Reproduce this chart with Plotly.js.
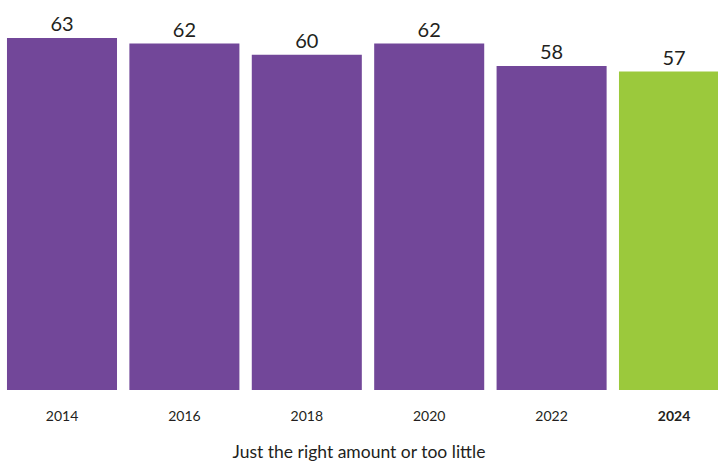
<!DOCTYPE html>
<html><head><meta charset="utf-8">
<script src="https://cdn.plot.ly/plotly-3.0.1.min.js"></script>
<style>html,body{margin:0;padding:0;background:#fff}#chart{width:718px;height:462px}</style>
</head><body><div id="chart"></div>
<script>
const years = ["2014","2016","2018","2020","2022","2024"];
const tickLabels = ["2014","2016","2018","2020","2022","<b>2024</b>"];
const values = [63, 62, 60, 62, 58, 57];
const barColors = ["#724799","#724799","#724799","#724799","#724799","#9BC93C"];
const axisTitle = "Just the right amount or too little";

const trace = {
  type: "bar",
  x: years,
  y: values,
  text: values.map(String),
  textposition: "outside",
  cliponaxis: false,
  textfont: {family: "Lato, 'Open Sans', sans-serif", size: 20, color: "#231F20"},
  marker: {color: barColors, line: {width: 0}},
  hoverinfo: "none"
};
const layout = {
  width: 718, height: 462,
  margin: {l: 0, r: 0, t: 0, b: 72},
  paper_bgcolor: "#fff", plot_bgcolor: "#fff",
  bargap: 0.101,
  showlegend: false,
  xaxis: {
    type: "category",
    range: [-0.5065, 5.3595],
    tickmode: "array", tickvals: years, ticktext: tickLabels,
    ticks: "outside", ticklen: 13, tickcolor: "rgba(0,0,0,0)",
    tickfont: {family: "Lato, 'Open Sans', sans-serif", size: 14, color: "#231F20"},
    showline: false, showgrid: false, zeroline: false,
    title: {text: axisTitle, standoff: 26, font: {family: "Lato, 'Open Sans', sans-serif", size: 17.5, color: "#231F20"}}
  },
  yaxis: {
    range: [0, 69.8], visible: false, showgrid: false, zeroline: false, fixedrange: true
  }
};
Plotly.newPlot("chart", [trace], layout, {staticPlot: true, displayModeBar: false});
</script></body></html>
